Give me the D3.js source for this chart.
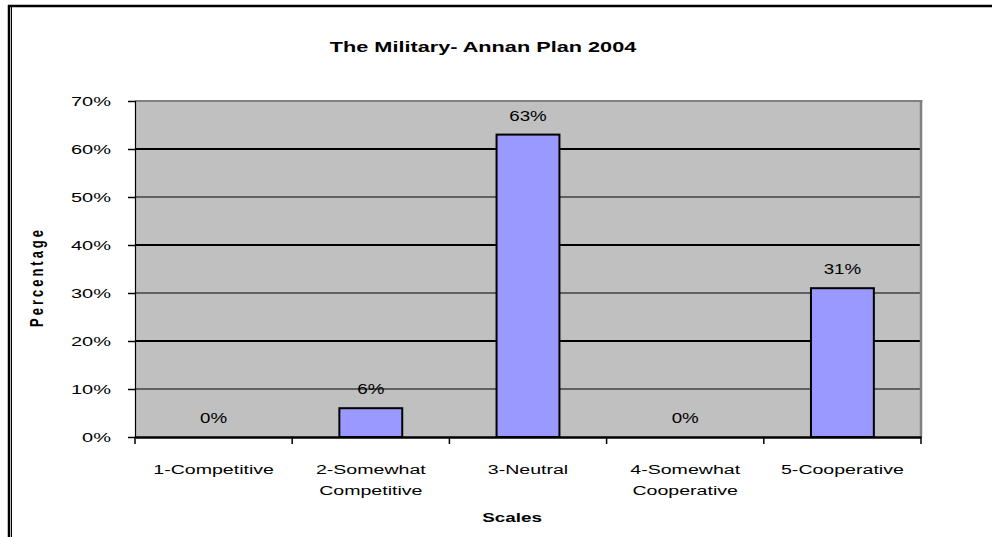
<!DOCTYPE html>
<html>
<head>
<meta charset="utf-8">
<script src="https://cdn.jsdelivr.net/npm/d3@7"></script>
<style>
  html, body { margin: 0; padding: 0; background: #fff; }
  svg { display: block; }
  text { font-family: "Liberation Sans", Arial, sans-serif; fill: #000; }
</style>
</head>
<body>
<svg id="chart" width="992" height="537"></svg>
<script>
// Survey results: the military's stance on the Annan Plan (2004)
const categories = ["1-Competitive", "2-Somewhat Competitive", "3-Neutral", "4-Somewhat Cooperative", "5-Cooperative"];
const values = [0, 6, 63, 0, 31];
const yTicks = [0, 10, 20, 30, 40, 50, 60, 70];
const title = "The Military- Annan Plan 2004";
const xTitle = "Scales";
const yTitle = "Percentage";

const svg = d3.select("#chart");
const plot = { left: 135, right: 921, top: 101, bottom: 437 };

const x = d3.scaleBand().domain(categories).range([plot.left, plot.right]).padding(0);
const y = d3.scaleLinear().domain([0, 70]).range([plot.bottom, plot.top]);

// Text drawn horizontally widened, the way the original export renders it
function wideText(g, str, px, py, opts) {
  const sx = opts.sx || 1, sy = opts.sy || 1, rot = opts.rotate || 0;
  return g.append("text")
    .attr("transform", `translate(${px},${py}) rotate(${rot}) scale(${sx},${sy})`)
    .attr("text-anchor", opts.anchor || "middle")
    .attr("font-size", opts.size)
    .attr("font-weight", opts.weight || "normal")
    .attr("letter-spacing", opts.spacing || 0)
    .text(str);
}

// Outer frame (double rule on the left, heavy rule on top)
svg.append("line").attr("x1", 9).attr("x2", 9).attr("y1", 5).attr("y2", 537)
  .attr("stroke", "#000").attr("stroke-width", 2.5);
svg.append("line").attr("x1", 11.5).attr("x2", 11.5).attr("y1", 7).attr("y2", 537)
  .attr("stroke", "#000").attr("stroke-width", 1);
svg.append("line").attr("x1", 8).attr("x2", 992).attr("y1", 6).attr("y2", 6)
  .attr("stroke", "#000").attr("stroke-width", 2.5);

// Plot area
svg.append("rect")
  .attr("x", plot.left).attr("y", plot.top)
  .attr("width", plot.right - plot.left).attr("height", plot.bottom - plot.top)
  .attr("fill", "#c0c0c0");

// Gridlines
svg.append("g").selectAll("line")
  .data(yTicks.filter(d => d > 0 && d < 70))
  .join("line")
  .attr("x1", plot.left).attr("x2", plot.right)
  .attr("y1", d => y(d)).attr("y2", d => y(d))
  .attr("stroke", "#000").attr("stroke-width", (d, i) => i % 2 ? 2 : 1.2);

// Plot border (top and right in grey)
svg.append("line").attr("x1", plot.left).attr("x2", plot.right + 1.5)
  .attr("y1", plot.top).attr("y2", plot.top)
  .attr("stroke", "#808080").attr("stroke-width", 2);
svg.append("line").attr("x1", plot.right).attr("x2", plot.right)
  .attr("y1", plot.top).attr("y2", plot.bottom)
  .attr("stroke", "#808080").attr("stroke-width", 2.5);

// Bars
svg.append("g").selectAll("rect")
  .data(values.map((v, i) => ({ c: categories[i], v })))
  .join("rect")
  .filter(d => d.v > 0)
  .attr("x", d => x(d.c) + x.bandwidth() * 0.3)
  .attr("width", x.bandwidth() * 0.4)
  .attr("y", d => y(d.v))
  .attr("height", d => y(0) - y(d.v))
  .attr("fill", "#9999ff")
  .attr("stroke", "#000").attr("stroke-width", 2);

// Y axis
const yAxis = svg.append("g")
  .attr("transform", `translate(${plot.left},0)`)
  .call(d3.axisLeft(y).tickValues(yTicks).tickSize(7).tickFormat(() => ""));
yAxis.select(".domain").attr("stroke", "#000").attr("stroke-width", 1.2);
yAxis.selectAll(".tick line").attr("stroke", "#000").attr("stroke-width", 1.5);
yTicks.forEach(t => {
  wideText(svg, t + "%", 111, y(t) + 4.5, { size: 12.5, sx: 1.6, anchor: "end" });
});

// X axis
const xAxis = svg.append("g")
  .attr("transform", `translate(0,${plot.bottom})`)
  .call(d3.axisBottom(x).tickSize(0).tickFormat(() => ""));
xAxis.select(".domain").attr("stroke", "#000").attr("stroke-width", 2.5);
const bounds = categories.map(c => x(c)).concat([plot.right]);
svg.append("g").selectAll("line")
  .data(bounds)
  .join("line")
  .attr("x1", d => d).attr("x2", d => d)
  .attr("y1", plot.bottom).attr("y2", plot.bottom + 7)
  .attr("stroke", "#000").attr("stroke-width", 1.5);

// Category labels (wrapped after the first word)
categories.forEach(c => {
  const cx = x(c) + x.bandwidth() / 2;
  const parts = c.split(" ");
  parts.forEach((line, i) => {
    wideText(svg, line, cx, 474 + i * 21, { size: 13.5, sx: 1.45 });
  });
});

// Value labels
values.forEach((v, i) => {
  const cx = x(categories[i]) + x.bandwidth() / 2;
  wideText(svg, v + "%", cx, y(v) - 14, { size: 15, sx: 1.25 });
});

// Titles
wideText(svg, title, 483, 52, { size: 14, sx: 1.55, weight: "bold" });
wideText(svg, xTitle, 512, 522, { size: 13, sx: 1.45, weight: "bold" });
wideText(svg, yTitle, 43, 277, { size: 13, sy: 1.4, weight: "bold", rotate: -90, spacing: 3 });
</script>
</body>
</html>
